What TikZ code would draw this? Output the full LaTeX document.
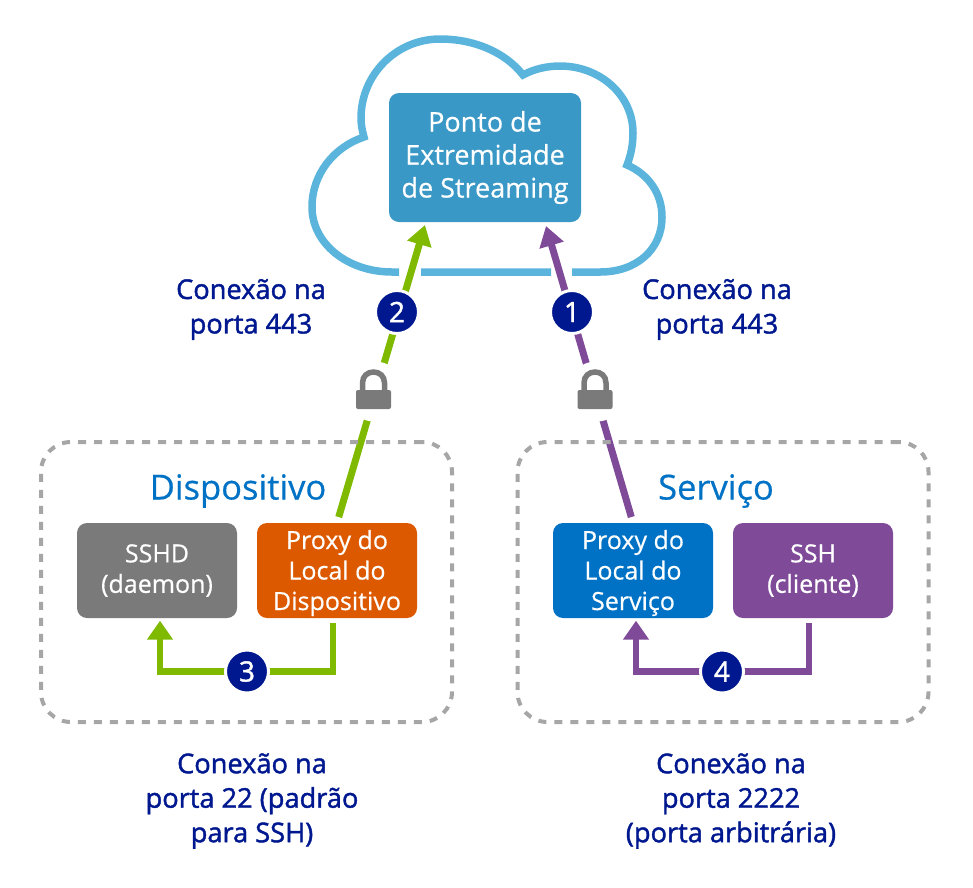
\documentclass[tikz,border=0pt]{standalone}
\usepackage{fontspec}
\setmainfont{Open Sans}
\newfontfamily\labelfont[FakeBold=1.5]{Open Sans}
\newfontfamily\boxfont[FakeBold=0.5]{Open Sans}
\usetikzlibrary{arrows.meta, backgrounds}
\definecolor{cloudblue}{HTML}{5AB4DB}
\definecolor{endpointblue}{HTML}{3A98C6}
\definecolor{linkgreen}{HTML}{7FBA00}
\definecolor{linkpurple}{HTML}{7F4A98}
\definecolor{navy}{HTML}{00188F}
\definecolor{headblue}{HTML}{0072C6}
\definecolor{proxyorange}{HTML}{DD5900}
\definecolor{boxgray}{HTML}{7A7A7A}
\definecolor{dashgray}{HTML}{A6A6A6}
\tikzset{
box/.style={rounded corners=10pt, text=white, align=center, minimum width=160pt, minimum height=95pt, inner sep=0pt, font=\fontsize{25}{30.5}\boxfont},
num/.style={circle, fill=navy, draw=white, line width=3pt, minimum size=43pt, inner sep=0pt, text=white, font=\fontsize{28}{28}\labelfont},
gap/.style={circle, fill=white, minimum size=60pt, inner sep=0pt},
area/.style={draw=dashgray, line width=4pt, dash pattern=on 8pt off 8pt, rounded corners=30pt, minimum width=411pt, minimum height=280pt},
head/.style={text=headblue, font=\fontsize{34.5}{34.5}\boxfont},
note/.style={text=navy, align=center, font=\fontsize{27.2}{34.5}\labelfont},
link/.style={line width=7pt},
elbow/.style={line width=6.3pt, shorten <=5pt, -{Triangle[length=19pt, width=25pt]}},
padlock/.pic={
\fill[boxgray, rounded corners=2pt] (-17.5,0) rectangle (17.5,19);
\draw[boxgray, line width=5.5pt] (-11,1) -- (-11,-7) .. controls (-11,-14) and (-6,-18) .. (0,-18) .. controls (6,-18) and (11,-14) .. (11,-7) -- (11,1);
}
}
\begin{document}
\begin{tikzpicture}[x=1pt, y=-1pt]
\useasboundingbox (0,0) rectangle (973,887);
\node[area] (areaD) at (246.5,582) {};
\node[area] (areaS) at (723,582) {};
\node[box, fill=endpointblue, minimum width=192pt, minimum height=129pt, font=\fontsize{27}{33}\boxfont] (endpoint) at (485,157.5) {Ponto de\\Extremidade\\de Streaming};
\node[box, fill=boxgray] (sshd) at (157,570.5) {SSHD\\(daemon)};
\node[box, fill=proxyorange] (proxyD) at (337,570.5) {\rule{0pt}{24pt}Proxy do\\Local do\\Dispositivo};
\node[box, fill=headblue] (proxyS) at (633,570.5) {\rule{0pt}{24pt}Proxy do\\Local do\\Serviço};
\node[box, fill=linkpurple] (ssh) at (813,570.5) {SSH\\(cliente)};
\node[head] (headD) at (238,491) {Dispositivo};
\node[head] (headS) at (716,491) {Serviço};
\node[gap] (gapD) at (374.6,391.5) {};
\node[gap] (gapS) at (596.4,391.5) {};
\pic at (373.5,390) {padlock};
\pic at (595,390) {padlock};
\node[num] (num1) at (572,312) {1};
\node[num] (num2) at (397,312) {2};
\node[num] (num3) at (247,671.5) {3};
\node[num] (num4) at (722,671.5) {4};
\node[note] (noteA) at (251,309.5) {Conexão na\\porta 443};
\node[note] (noteB) at (717,309.5) {Conexão na\\porta 443};
\node[note] (noteC) at (252,801) {Conexão na\\porta 22 (padrão\\para SSH)};
\node[note] (noteD) at (731,801) {Conexão na\\porta 2222\\(porta arbitrária)};
\coordinate (tipD) at (425,225);
\coordinate (tipS) at (546,226);
\begin{scope}[on background layer]
\draw[draw=cloudblue, line width=7.5pt] (421,272) -- (551,272) (572,272) -- (600,272) .. controls (636,272) and (662,250) .. (662,217) .. controls (662,193) and (648,174) .. (627,165) .. controls (631,155) and (633,144) .. (633,133) .. controls (633,95) and (600,66) .. (560,66) .. controls (547,66) and (534,69) .. (523,75) .. controls (505,52) and (474,39) .. (440,39) .. controls (396,39) and (361,75) .. (361,118) .. controls (361,124) and (362,130) .. (364,137) .. controls (334,147) and (312,174) .. (312,207) .. controls (312,244) and (348,272) .. (392,272) -- (399,272);
\draw[link, linkgreen, shorten <=6pt, -{Triangle[length=20pt, width=24pt]}] (proxyD.north) -- (tipD);
\draw[link, linkpurple, shorten <=6pt, -{Triangle[length=20pt, width=24pt]}] (proxyS.north) -- (tipS);
\draw[elbow, linkgreen] ([xshift=-4pt]proxyD.south) |- (num3.center) -| ([xshift=3pt, yshift=-2.5pt]sshd.south);
\draw[elbow, linkpurple] ([xshift=-4pt]ssh.south) |- (num4.center) -| ([xshift=3pt, yshift=-2.5pt]proxyS.south);
\end{scope}
\end{tikzpicture}
\end{document}
